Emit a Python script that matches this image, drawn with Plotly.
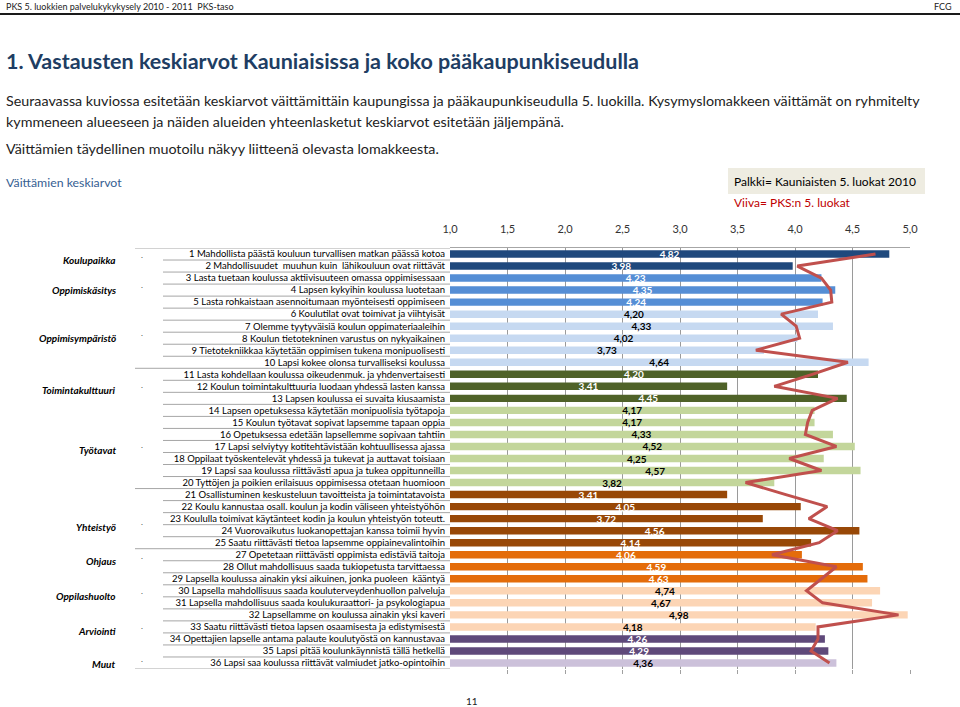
import plotly.graph_objects as go

labels = [
    "1 Mahdollista päästä kouluun turvallisen matkan päässä kotoa",
    "2 Mahdollisuudet  muuhun kuin  lähikouluun ovat riittävät",
    "3 Lasta tuetaan koulussa aktiivisuuteen omassa oppimisessaan",
    "4 Lapsen kykyihin koulussa luotetaan",
    "5 Lasta rohkaistaan asennoitumaan myönteisesti oppimiseen",
    "6 Koulutilat ovat toimivat ja viihtyisät",
    "7 Olemme tyytyväisiä koulun oppimateriaaleihin",
    "8 Koulun tietotekninen varustus on nykyaikainen",
    "9 Tietotekniikkaa käytetään oppimisen tukena monipuolisesti",
    "10 Lapsi kokee olonsa turvalliseksi koulussa",
    "11 Lasta kohdellaan koulussa oikeudenmuk. ja yhdenvertaisesti",
    "12 Koulun toimintakulttuuria luodaan yhdessä lasten kanssa",
    "13 Lapsen koulussa ei suvaita kiusaamista",
    "14 Lapsen opetuksessa käytetään monipuolisia työtapoja",
    "15 Koulun työtavat sopivat lapsemme tapaan oppia",
    "16 Opetuksessa edetään lapsellemme sopivaan tahtiin",
    "17 Lapsi selviytyy kotitehtävistään kohtuullisessa ajassa",
    "18 Oppilaat työskentelevät yhdessä ja tukevat ja auttavat toisiaan",
    "19 Lapsi saa koulussa riittävästi apua ja tukea oppitunneilla",
    "20 Tyttöjen ja poikien erilaisuus oppimisessa otetaan huomioon",
    "21 Osallistuminen keskusteluun tavoitteista ja toimintatavoista",
    "22 Koulu kannustaa osall. koulun ja kodin väliseen yhteistyöhön",
    "23 Koululla toimivat käytänteet kodin ja koulun yhteistyön toteutt.",
    "24 Vuorovaikutus luokanopettajan kanssa toimii hyvin",
    "25 Saatu riittävästi tietoa lapsemme oppiainevalintoihin",
    "27 Opetetaan riittävästi oppimista edistäviä taitoja",
    "28 Ollut mahdollisuus saada tukiopetusta tarvittaessa",
    "29 Lapsella koulussa ainakin yksi aikuinen, jonka puoleen  kääntyä",
    "30 Lapsella mahdollisuus saada kouluterveydenhuollon palveluja",
    "31 Lapsella mahdollisuus saada koulukuraattori- ja psykologiapua",
    "32 Lapsellamme on koulussa ainakin yksi kaveri",
    "33 Saatu riittävästi tietoa lapsen osaamisesta ja edistymisestä",
    "34 Opettajien lapselle antama palaute koulutyöstä on kannustavaa",
    "35 Lapsi pitää koulunkäynnistä tällä hetkellä",
    "36 Lapsi saa koulussa riittävät valmiudet jatko-opintoihin",
]

# Bars: Kauniaisten 5. luokat 2010
kauniainen = [4.82, 3.98, 4.23, 4.35, 4.24, 4.20, 4.33, 4.02, 3.73, 4.64,
              4.20, 3.41, 4.45, 4.17, 4.17, 4.33, 4.52, 4.25, 4.57, 3.82,
              3.41, 4.05, 3.72, 4.56, 4.14, 4.06, 4.59, 4.63, 4.74, 4.67,
              4.98, 4.18, 4.26, 4.29, 4.36]

# Line: PKS:n 5. luokat
pks = [4.70, 4.02, 4.23, 4.31, 4.32, 3.88, 4.01, 4.04, 3.66, 4.46,
       4.15, 3.82, 4.37, 4.15, 4.11, 4.09, 4.36, 3.95, 4.23, 3.57,
       3.92, 4.28, 4.12, 4.37, 4.21, 3.80, 4.36, 4.23, 4.10, 4.24,
       4.90, 4.20, 4.20, 4.14, 4.30]

tick_vals = [1.0, 1.5, 2.0, 2.5, 3.0, 3.5, 4.0, 4.5, 5.0]
tick_text = ["1,0", "1,5", "2,0", "2,5", "3,0", "3,5", "4,0", "4,5", "5,0"]

group_names = ["Koulupaikka", "Oppimiskäsitys", "Oppimisympäristö", "Toimintakulttuuri",
               "Työtavat", "Yhteistyö", "Ohjaus", "Oppilashuolto", "Arviointi", "Muut"]
group_label_pos = [0.5, 3, 7, 11.3, 16.3, 22.7, 25.5, 28.45, 31.3, 34.05]

# colour bands of the bars (colour, text colour, number of rows)
bands = [("#1F497D", "white", 2), ("#558ED5", "white", 3), ("#C6D9F1", "black", 5),
         ("#4F6228", "white", 3), ("#C3D69B", "black", 7), ("#984807", "white", 5),
         ("#E46C0A", "white", 3), ("#FCD5B5", "black", 4), ("#5F497A", "white", 2),
         ("#CCC1DA", "black", 1)]
long_sep_before = [0, 10, 20, 25]   # row indices with a long separator line above

bar_colors, text_colors = [], []
for c, tc, n in bands:
    bar_colors += [c] * n
    text_colors += [tc] * n

n = len(labels)
rows = list(range(n))
FONT = "Lato, 'Open Sans', sans-serif"

# pixel helpers for plot area (x: 450..910, y: 248..669)
X0, X1, Y0, Y1 = 450, 910, 248, 669
def px(x):
    return (x - X0) / (X1 - X0)
def py(y):
    return (Y1 - y) / (Y1 - Y0)

fig = go.Figure()
fig.add_trace(go.Bar(
    y=rows, x=[v - 1 for v in kauniainen], base=1, orientation="h",
    marker=dict(color=bar_colors, line=dict(width=0)), width=0.62,
    text=[f"{v:.2f}".replace(".", ",") for v in kauniainen],
    textposition="inside", insidetextanchor="middle", constraintext="none",
    textfont=dict(family=FONT, size=10, color=text_colors, weight="bold"),
    cliponaxis=False, showlegend=False, hoverinfo="skip", xaxis="x", yaxis="y",
))
fig.add_trace(go.Scatter(
    y=rows, x=pks, mode="lines", line=dict(color="#C0504D", width=3),
    showlegend=False, hoverinfo="skip", xaxis="x2", yaxis="y",
))

shapes = []
# header rule
shapes.append(dict(type="line", xref="paper", yref="paper", x0=px(0), x1=px(960),
                   y0=py(14), y1=py(14), line=dict(color="#1a1a1a", width=2)))
# legend box
shapes.append(dict(type="rect", xref="paper", yref="paper", x0=px(728), x1=px(925),
                   y0=py(194), y1=py(168), fillcolor="#EEECE1", line=dict(width=0), layer="below"))
# label table lines
for i in range(n + 1):
    left = 135 if (i in long_sep_before or i == n) else 163
    shapes.append(dict(type="line", xref="paper", yref="y", x0=px(left), x1=px(X0),
                       y0=i - 0.5, y1=i - 0.5, line=dict(color="#A6A6A6", width=1)))

annotations = []
def ann(text, x, y, size, color="#000", anchor="left", bold=False, italic=False, yref="paper"):
    annotations.append(dict(
        text=text, x=px(x), y=(py(y) if yref == "paper" else y), xref="paper", yref=yref,
        xanchor=anchor, yanchor="middle", showarrow=False,
        font=dict(family=FONT, size=size, color=color,
                  weight=("bold" if bold else "normal"),
                  style=("italic" if italic else "normal"))))

ann("PKS 5. luokkien palvelukykykysely 2010 - 2011  PKS-taso", 4, 6, 9, "#222")
ann("FCG", 954, 6, 9, "#222", anchor="right")
ann("1. Vastausten keskiarvot Kauniaisissa ja koko pääkaupunkiseudulla", 4, 61, 21.5, "#203D63", bold=True)
ann("Seuraavassa kuviossa esitetään keskiarvot väittämittäin kaupungissa ja pääkaupunkiseudulla 5. luokilla. "
    "Kysymyslomakkeen väittämät on ryhmitelty", 4, 101, 14.3, "#222")
ann("kymmeneen alueeseen ja näiden alueiden yhteenlasketut keskiarvot esitetään jäljempänä.", 4, 122, 14.3, "#222")
ann("Väittämien täydellinen muotoilu näkyy liitteenä olevasta lomakkeesta.", 4, 148, 14.3, "#222")
ann("Väittämien keskiarvot", 4, 183, 12.3, "#366092")
ann("Palkki= Kauniaisten 5. luokat 2010", 732, 182, 12, "#000")
ann("Viiva= PKS:n 5. luokat", 732, 202, 12, "#C00000")
ann("11", 472, 701, 10, "#222", anchor="center")

for name, pos in zip(group_names, group_label_pos):
    ann(name, 118, pos, 10, "#000", anchor="right", bold=True, italic=True, yref="y")
    ann(".", 142, pos - 0.4, 8, "#444", anchor="center", yref="y")

fig.update_layout(
    width=960, height=707,
    margin=dict(l=X0, r=960 - X1, t=Y0, b=707 - Y1, pad=0),
    paper_bgcolor="white", plot_bgcolor="white",
    bargap=0.38, showlegend=False,
    font=dict(family=FONT, color="#000"),
    shapes=shapes, annotations=annotations,
    xaxis=dict(range=[1, 5], tickvals=tick_vals[1:], showticklabels=False,
               ticks="outside", ticklen=4, tickcolor="#A0A0A0",
               showgrid=True, gridcolor="#9A9A9A", gridwidth=1,
               zeroline=False, showline=False, fixedrange=True),
    xaxis2=dict(range=[1, 5], overlaying="x", side="top", anchor="y",
                tickvals=tick_vals, ticktext=tick_text, showgrid=False, ticks="",
                ticklabelstandoff=10, showline=True, linecolor="#A6A6A6", linewidth=1,
                tickfont=dict(family=FONT, size=11, color="#333"), zeroline=False),
    yaxis=dict(range=[n - 0.5, -0.5], tickvals=rows, ticktext=labels, ticks="",
               showgrid=False, zeroline=False, showline=False, ticklabelstandoff=4,
               tickfont=dict(family=FONT, size=9.5, color="#000")),
)

fig.write_html("out.html", config={"displayModeBar": False},
               post_script="document.body.style.margin='0';document.body.style.overflow='hidden';")
